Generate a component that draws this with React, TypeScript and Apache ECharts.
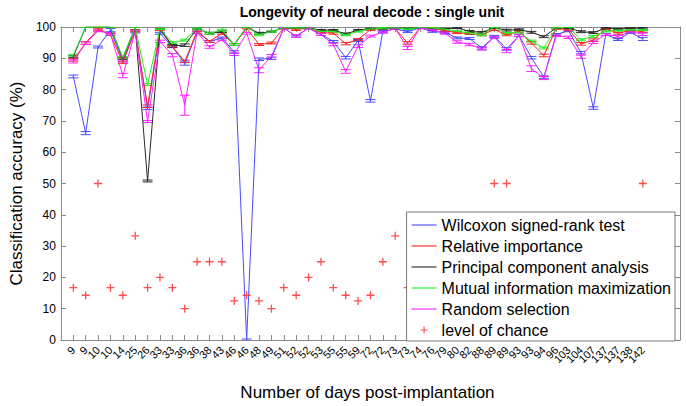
import React, { useEffect, useRef } from 'react';
import * as echarts from 'echarts';

const days = ['9','9','10','10','14','25','26','33','33','36','36','38','43','46','46','48','49','51','52','52','53','55','55','59','72','72','73','73','74','76','79','80','82','88','89','89','93','93','94','96','103','104','107','137','137','138','142'];

const wilcoxon = [84.2,66.1,93.6,99.0,89.2,98.8,74.0,98.0,93.7,88.3,98.3,95.4,96.5,92.0,0,89.7,90.0,99.6,97.1,99.6,97.6,95.4,90.2,95.7,76.4,98.6,99.4,98.5,99.7,98.6,98.3,96.5,96.3,93.3,97.0,93.0,97.3,90.2,84.0,97.6,98.8,91.8,74.1,97.6,96.0,98.3,96.2];
const wilcoxonErr = [0.45,0.5,0.3,0.5,0.4,0.4,0.4,0.3,0.3,0.5,0.3,0.3,0.3,0.4,0.3,0.4,0.4,0.2,0.3,0.2,0.3,0.3,0.4,0.3,0.4,0.3,0.2,0.3,0.2,0.3,0.3,0.3,0.3,0.4,0.3,0.4,0.3,0.4,0.4,0.3,0.3,0.4,0.4,0.3,0.3,0.3,0.5];

const relImportance = [89.5,94.9,99.3,97.6,88.7,98.8,74.7,99.2,93.8,89.0,98.8,95.4,98.0,94.4,99.6,94.4,94.9,99.7,99.2,99.7,98.3,98.0,94.7,96.0,99.2,99.5,99.5,94.9,99.7,99.7,98.8,98.2,97.9,97.5,99.2,97.5,98.6,94.9,90.9,99.5,99.2,94.6,95.8,99.5,98.0,99.0,98.5];
const relImportanceErr = [0.4,0.4,0.3,0.3,0.4,0.3,0.4,0.3,0.3,0.4,0.3,0.3,0.3,0.3,0.2,0.3,0.3,0.2,0.3,0.2,0.3,0.3,0.4,0.3,0.3,0.2,0.2,0.4,0.2,0.2,0.3,0.3,0.3,0.3,0.3,0.3,0.3,0.4,0.4,0.2,0.3,0.4,0.4,0.2,0.3,0.3,0.3];

const pca = [90.5,100,100,100,89.9,100,50.8,99.4,94.0,94.2,99.5,98.0,98.5,94.4,100,98.0,98.5,99.8,99.7,99.7,99.0,99.0,97.8,99.0,99.5,99.5,99.7,99.5,99.8,99.5,99.4,99.7,98.6,98.3,99.7,99.0,99.2,98.3,96.9,99.7,99.7,98.5,98.2,99.6,99.4,99.6,99.6];
const pcaErr = [0.3,0.1,0.1,0.1,0.3,0.1,0.3,0.2,0.4,0.4,0.2,0.3,0.3,0.3,0.1,0.3,0.2,0.2,0.2,0.2,0.2,0.2,0.3,0.2,0.2,0.2,0.2,0.2,0.2,0.2,0.2,0.2,0.3,0.3,0.2,0.3,0.2,0.3,0.3,0.2,0.2,0.3,0.3,0.2,0.2,0.2,0.2];

const mutualInfo = [91.0,100,100,100,90.2,100,81.6,99.4,95.0,95.8,99.5,98.0,99.0,94.4,100,97.5,98.5,99.8,99.7,99.7,98.6,98.6,97.5,98.6,99.4,99.6,99.7,99.4,99.8,99.7,99.3,98.6,98.1,97.5,100,98.0,98.3,95.5,93.3,99.7,100,95.9,97.0,98.6,98.9,99.0,99.0];
const mutualInfoErr = [0.3,0.1,0.1,0.1,0.3,0.1,0.3,0.2,0.3,0.3,0.2,0.3,0.3,0.3,0.1,0.3,0.2,0.2,0.2,0.2,0.2,0.2,0.3,0.2,0.2,0.2,0.2,0.2,0.2,0.2,0.2,0.2,0.3,0.3,0.1,0.3,0.2,0.3,0.3,0.2,0.1,0.3,0.3,0.2,0.2,0.2,0.2];

const randomSel = [89.0,94.8,98.8,97.8,84.5,98.5,69.8,95.4,91.0,75.0,98.3,93.6,96.0,91.3,98.0,86.2,90.7,99.6,97.1,99.6,97.6,94.4,85.8,93.9,97.1,98.3,99.5,93.3,99.7,99.0,98.0,95.2,94.4,93.0,96.7,92.3,97.3,86.7,83.7,97.3,96.7,90.5,95.1,97.6,97.0,98.5,97.7];
const randomSelErr = [0.5,0.4,0.3,0.4,0.7,0.4,0.3,0.4,0.5,3.2,0.4,0.4,0.4,0.4,0.3,0.8,0.5,0.2,0.4,0.2,0.3,0.4,0.6,0.4,0.3,0.3,0.2,0.5,0.2,0.3,0.3,0.4,0.4,0.4,0.3,0.5,0.4,0.9,0.5,0.4,0.4,0.5,0.4,0.3,0.4,0.3,0.4];

const chance = [16.7,14.3,50,16.7,14.3,33.3,16.7,20,16.7,10,25,25,25,12.5,14.3,12.5,10,16.7,14.3,20,25,16.7,14.3,12.5,14.3,25,33.3,16.7,14.3,20,16.7,25,12.5,14.3,50,50,16.7,20,14.3,25,16.7,12.5,20,14.3,16.7,20,50];

// category slots: one empty slot before the days, three after (axis spans 0..50)
const xSlots = ['', ...days, '', '', ''];

const FONT = "'Liberation Sans', Arial, sans-serif";
const PLUS = 'path://M4.2,0H5.8V4.2H10V5.8H5.8V10H4.2V5.8H0V4.2H4.2Z';
const PLUS_LEGEND = 'path://M0,0h0.01v0.01h-0.01z M19.99,19.99h0.01v0.01h-0.01z M9.2,5H10.8V9.2H15V10.8H10.8V15H9.2V10.8H5V9.2H9.2Z';
const LINE_LEGEND = 'path://M0,0H25V1.1H0Z';

const methods = [
  { name: 'Wilcoxon signed-rank test', color: '#4a4aff', values: wilcoxon, err: wilcoxonErr },
  { name: 'Relative importance', color: '#ff2222', values: relImportance, err: relImportanceErr },
  { name: 'Principal component analysis', color: '#2a2a2a', values: pca, err: pcaErr },
  { name: 'Mutual information maximization', color: '#22ee22', values: mutualInfo, err: mutualInfoErr },
  { name: 'Random selection', color: '#ff22ff', values: randomSel, err: randomSelErr },
];
const chanceName = 'level of chance';

const isDaySlot = (idx: number) => idx >= 1 && idx <= days.length;

function buildOption() {
  const series: any[] = [];
  methods.forEach((m, k) => {
    series.push({
      name: m.name,
      type: 'line',
      symbol: 'none',
      data: m.values.map((v, i) => [i + 1, v]),
      lineStyle: { color: m.color, width: 1 },
      itemStyle: { color: m.color },
      z: 2,
    });
    series.push({
      name: 'err' + k,
      type: 'custom',
      clip: true,
      data: m.values.map((v, i) => [i + 1, v, m.err[i]]),
      encode: { x: 0, y: 1 },
      renderItem: (params: any, api: any) => {
        const x = api.value(0);
        const v = api.value(1);
        const e = api.value(2);
        const top = api.coord([x, v + e]);
        const bot = api.coord([x, v - e]);
        const w = 5;
        const style = { stroke: m.color, lineWidth: 1, fill: 'none' };
        return {
          type: 'group',
          children: [
            { type: 'line', shape: { x1: top[0], y1: top[1], x2: bot[0], y2: bot[1] }, style },
            { type: 'line', shape: { x1: top[0] - w, y1: top[1], x2: top[0] + w, y2: top[1] }, style },
            { type: 'line', shape: { x1: bot[0] - w, y1: bot[1], x2: bot[0] + w, y2: bot[1] }, style },
          ],
        };
      },
      z: 2,
    });
  });
  series.push({
    name: chanceName,
    type: 'scatter',
    symbol: PLUS,
    symbolSize: 8,
    data: chance.map((v, i) => [i + 1, v]),
    itemStyle: { color: '#ff2020' },
    z: 3,
  });

  const axisLineStyle = { color: '#8a8a8a', width: 1 };
  const catAxisBase = {
    type: 'category',
    data: xSlots,
    boundaryGap: false,
    splitLine: { show: false },
    axisLine: { show: true, onZero: false, lineStyle: axisLineStyle },
    axisTick: { show: true, inside: true, length: 5, interval: (idx: number) => isDaySlot(idx), lineStyle: axisLineStyle },
  };
  return {
    animation: false,
    backgroundColor: '#fff',
    textStyle: { fontFamily: FONT },
    grid: { left: 48, right: 6, top: 27, bottom: 58, containLabel: false },
    graphic: [
      {
        type: 'text',
        x: 372,
        y: 12,
        style: {
          text: 'Longevity of neural decode : single unit',
          fontSize: 14,
          fontWeight: 'bold',
          fontFamily: FONT,
          fill: '#000',
          align: 'center',
          verticalAlign: 'middle',
        },
      },
    ],
    legend: {
      data: [
        ...methods.map((m) => ({ name: m.name, icon: LINE_LEGEND })),
        { name: chanceName, icon: PLUS_LEGEND },
      ],
      orient: 'vertical',
      right: 11,
      top: 212,
      itemWidth: 25,
      itemHeight: 14,
      itemGap: 5,
      padding: [5, 4, 3, 5],
      backgroundColor: '#fff',
      borderColor: '#777',
      borderWidth: 1,
      borderRadius: 0,
      selectedMode: false,
      textStyle: { fontSize: 16, lineHeight: 16, color: '#000', fontFamily: FONT },
      z: 10,
    },
    xAxis: [
      {
        ...catAxisBase,
        position: 'bottom',
        axisLabel: {
          interval: 0,
          showMinLabel: true,
          showMaxLabel: true,
          rotate: 45,
          fontSize: 11,
          color: '#000',
          margin: 8,
          fontFamily: FONT,
        },
        name: 'Number of days post-implantation',
        nameLocation: 'middle',
        nameGap: 44,
        nameTextStyle: { fontSize: 17, color: '#000', fontFamily: FONT, padding: [0, 6, 0, 0] },
      },
      {
        ...catAxisBase,
        position: 'top',
        axisLabel: { show: false },
      },
    ],
    yAxis: [
      {
        type: 'value',
        position: 'left',
        min: 0,
        max: 100,
        interval: 10,
        splitLine: { show: false },
        axisLine: { show: true, onZero: false, lineStyle: axisLineStyle },
        axisTick: { show: true, inside: true, length: 5, lineStyle: axisLineStyle },
        axisLabel: { fontSize: 12, color: '#000', margin: 5, fontFamily: FONT },
        name: 'Classification accuracy (%)',
        nameLocation: 'middle',
        nameGap: 29,
        nameTextStyle: { fontSize: 17, color: '#000', fontFamily: FONT },
      },
      {
        type: 'value',
        position: 'right',
        min: 0,
        max: 100,
        interval: 10,
        splitLine: { show: false },
        axisLine: { show: true, onZero: false, lineStyle: axisLineStyle },
        axisTick: { show: true, inside: true, length: 5, lineStyle: axisLineStyle },
        axisLabel: { show: false },
      },
    ],
    series,
  };
}

export default function App() {
  const ref = useRef<HTMLDivElement>(null);
  useEffect(() => {
    if (!ref.current) return;
    const chart = echarts.init(ref.current, null, { renderer: 'svg' });
    chart.setOption(buildOption() as any);
    return () => chart.dispose();
  }, []);
  return (
    <div
      ref={ref}
      style={{ position: 'absolute', left: 0, top: 0, width: 686, height: 406, background: '#fff' }}
    />
  );
}
